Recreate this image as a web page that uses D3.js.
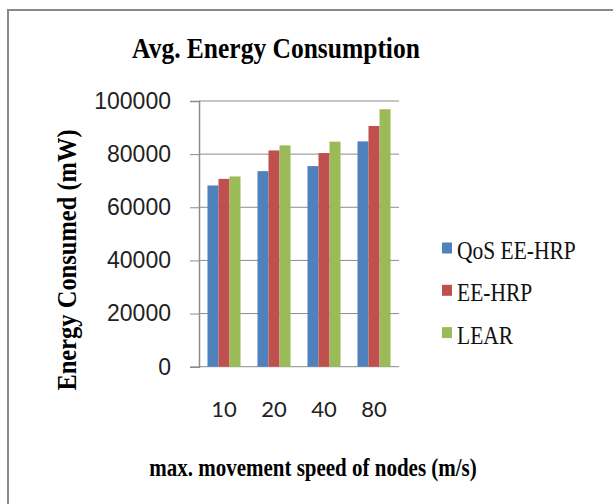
<!DOCTYPE html>
<html>
<head>
<meta charset="utf-8">
<script src="https://cdn.jsdelivr.net/npm/d3@7"></script>
<style>
  body { margin: 0; background: #fff; }
  svg { display: block; }
</style>
</head>
<body>
<div id="chart"></div>
<script>
// chart data
const speeds = ['10', '20', '40', '80'];
const seriesNames = ['QoS EE-HRP', 'EE-HRP', 'LEAR'];
const qosEeHrp = [68200, 73600, 75500, 84800];
const eeHrp = [70700, 81400, 80400, 90600];
const lear = [71600, 83300, 84700, 96900];
const yTicks = [0, 20000, 40000, 60000, 80000, 100000];

const seriesValues = [qosEeHrp, eeHrp, lear];
const colors = ['#4f81bd', '#c0504d', '#9bbb59'];

const width = 613;
const height = 504;

const svg = d3.select('#chart')
  .append('svg')
  .attr('width', width)
  .attr('height', height);

// outer frame
svg.append('rect')
  .attr('x', 8)
  .attr('y', 10)
  .attr('width', 700)
  .attr('height', 600)
  .attr('fill', '#fff')
  .attr('stroke', '#8a8a8a')
  .attr('stroke-width', 2);

const plot = { left: 199, right: 399, top: 101, bottom: 366.7 };

const y = d3.scaleLinear()
  .domain([0, 100000])
  .range([plot.bottom, plot.top]);

const x0 = d3.scaleBand()
  .domain(speeds)
  .range([plot.left, plot.right]);

const x1 = d3.scaleBand()
  .domain(seriesNames)
  .range([0, x0.bandwidth()])
  .paddingOuter(0.77);

// gridlines
svg.append('g')
  .selectAll('line')
  .data(yTicks)
  .enter().append('line')
  .attr('x1', plot.left)
  .attr('x2', plot.right)
  .attr('y1', d => y(d))
  .attr('y2', d => y(d))
  .attr('stroke', '#8c8c8c')
  .attr('stroke-width', 1);

// y axis
const yAxis = svg.append('g')
  .attr('transform', `translate(${plot.left},0)`)
  .call(d3.axisLeft(y).tickValues(yTicks).tickSize(9).tickPadding(19).tickFormat(d3.format('d')));
yAxis.select('.domain').attr('stroke', '#8c8c8c').attr('stroke-width', 1.5);
yAxis.selectAll('.tick line').attr('stroke', '#8c8c8c');
yAxis.selectAll('.tick text')
  .attr('fill', '#222')
  .style('font-family', '"Liberation Sans", Arial, sans-serif')
  .style('font-size', '23px');

// bars
const rows = speeds.map((s, i) => ({ speed: s, vals: seriesValues.map((v, k) => ({ name: seriesNames[k], value: v[i], k })) }));

svg.append('g')
  .selectAll('g')
  .data(rows)
  .enter().append('g')
  .attr('transform', d => `translate(${x0(d.speed)},0)`)
  .selectAll('rect')
  .data(d => d.vals)
  .enter().append('rect')
  .attr('x', d => x1(d.name))
  .attr('width', x1.bandwidth())
  .attr('y', d => y(d.value))
  .attr('height', d => y(0) - y(d.value))
  .attr('fill', d => colors[d.k]);

// x tick labels
svg.append('g')
  .selectAll('text')
  .data(speeds)
  .enter().append('text')
  .attr('x', d => x0(d) + x0.bandwidth() / 2)
  .attr('y', 416.5)
  .attr('text-anchor', 'middle')
  .attr('fill', '#222')
  .style('font-family', 'Lato, "Open Sans", sans-serif')
  .style('font-size', '22px')
  .text(d => d);

const serif = '"Liberation Serif", "Times New Roman", serif';

// title
svg.append('text')
  .attr('transform', 'translate(276,58) scale(1,1.15)')
  .attr('text-anchor', 'middle')
  .style('font-family', serif)
  .style('font-weight', 'bold')
  .style('font-size', '25.5px')
  .text('Avg. Energy Consumption');

// y axis title
svg.append('text')
  .attr('transform', 'translate(76,260) rotate(-90) scale(1,1.15)')
  .attr('text-anchor', 'middle')
  .style('font-family', serif)
  .style('font-weight', 'bold')
  .style('font-size', '24.5px')
  .text('Energy Consumed (mW)');

// x axis title
svg.append('text')
  .attr('transform', 'translate(313,476) scale(1,1.15)')
  .attr('text-anchor', 'middle')
  .style('font-family', serif)
  .style('font-weight', 'bold')
  .style('font-size', '21px')
  .text('max. movement speed of nodes (m/s)');

// legend
const legend = svg.append('g')
  .selectAll('g')
  .data(seriesNames)
  .enter().append('g')
  .attr('transform', (d, i) => `translate(442,${248 + i * 42.3})`);

legend.append('rect')
  .attr('x', 0)
  .attr('y', -5.5)
  .attr('width', 10)
  .attr('height', 11)
  .attr('fill', (d, i) => colors[i]);

legend.append('text')
  .attr('transform', 'translate(15,11) scale(1,1.15)')
  .style('font-family', serif)
  .style('font-size', '21.5px')
  .attr('fill', '#111')
  .text(d => d);
</script>
</body>
</html>
